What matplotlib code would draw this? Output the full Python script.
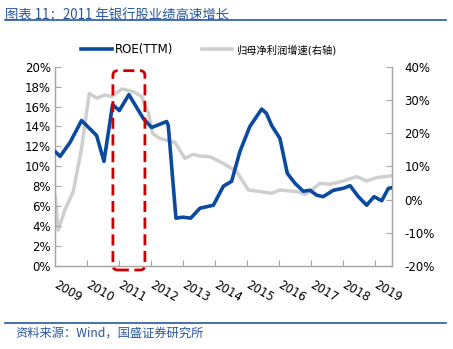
import matplotlib.pyplot as plt
from matplotlib.lines import Line2D
from matplotlib.patches import FancyBboxPatch

plt.rcParams["font.family"] = ["DejaVu Sans", "Noto Sans CJK SC"]

# ROE (TTM), left axis, % ; x in fractional years
roe_t = [2009.00, 2009.16, 2009.47, 2009.83, 2010.30, 2010.53, 2010.80, 2011.01,
         2011.31, 2011.76, 2012.02, 2012.49, 2012.54, 2012.78, 2012.99, 2013.24,
         2013.53, 2013.95, 2014.26, 2014.52, 2014.78, 2015.09, 2015.46, 2015.61,
         2015.77, 2016.03, 2016.26, 2016.50, 2016.76, 2016.97, 2017.18, 2017.38,
         2017.70, 2018.01, 2018.22, 2018.48, 2018.74, 2018.97, 2019.21, 2019.42,
         2019.54]
roe = [11.5, 11.0, 12.4, 14.6, 13.1, 10.5, 16.2, 15.6,
       17.2, 14.8, 13.9, 14.5, 14.1, 4.8, 4.9, 4.8,
       5.8, 6.1, 8.0, 8.5, 11.5, 14.0, 15.75, 15.3,
       14.1, 12.8, 9.3, 8.3, 7.5, 7.6, 7.1, 6.96,
       7.6, 7.8, 8.06, 6.96, 6.1, 6.96, 6.55, 7.8,
       7.86]

# 归母净利润增速, right axis, %
np_t = [2009.00, 2009.10, 2009.31, 2009.57, 2009.83, 2010.07, 2010.30, 2010.56,
        2010.77, 2011.09, 2011.45, 2011.71, 2011.92, 2012.05, 2012.28, 2012.75,
        2013.06, 2013.32, 2013.53, 2013.84, 2014.26, 2014.68, 2015.04, 2015.41,
        2015.77, 2016.03, 2016.55, 2016.81, 2016.97, 2017.28, 2017.59, 2018.01,
        2018.43, 2018.74, 2019.05, 2019.54]
np_growth = [1.4, -9.2, -3.1, 2.4, 15.4, 32.0, 30.5, 31.5,
             31.0, 33.3, 32.5, 31.0, 26.0, 19.9, 18.4, 17.2,
             12.4, 13.6, 13.1, 12.9, 10.9, 8.4, 2.9, 2.4,
             1.9, 2.9, 2.4, 1.6, 2.4, 4.9, 4.6, 5.6,
             6.9, 5.6, 6.6, 7.2]

years = list(range(2009, 2020))
left_ticks = list(range(0, 21, 2))
right_ticks = list(range(-20, 41, 10))
highlight = (2010.81, 2011.81)

blue = "#0b4a9e"
gray = "#cfcfcf"
spine_gray = "#a6a6a6"
text_blue = "#2856a3"

fig = plt.figure(figsize=(4.53, 3.49), dpi=100)
ax = fig.add_axes([0.1214, 0.2378, 0.7439, 0.5711])
ax2 = ax.twinx()

ax2.plot(np_t, np_growth, color=gray, lw=2.5, solid_joinstyle="round",
         solid_capstyle="round")
ax.plot(roe_t, roe, color=blue, lw=2.6, solid_joinstyle="round",
        solid_capstyle="round", zorder=3)
ax.set_zorder(ax2.get_zorder() + 1)
ax.patch.set_visible(False)

ax.set_xlim(2009, 2009 + 337 / 32)
ax.set_ylim(0, 20)
ax2.set_ylim(-20, 40)

ax.set_yticks(left_ticks)
ax.set_yticklabels([f"{v}%" for v in left_ticks])
ax2.set_yticks(right_ticks)
ax2.set_yticklabels([f"{v}%" for v in right_ticks])
ax.set_xticks(years)
ax.set_xticklabels([str(y) for y in years], rotation=-30, ha="left",
                   va="center", rotation_mode="anchor")

for a in (ax, ax2):
    a.spines["top"].set_visible(False)
    for side in ("left", "right", "bottom"):
        a.spines[side].set_color(spine_gray)
        a.spines[side].set_linewidth(0.9)
    a.tick_params(direction="in", length=4, width=0.8, color=spine_gray,
                  labelsize=8.5, labelcolor="black")
ax.tick_params(axis="x", pad=13)
ax.tick_params(axis="y", pad=3)
ax2.tick_params(axis="y", pad=9)

# dashed highlight around 2011
x0, x1 = highlight
box = FancyBboxPatch((x0, -0.4), x1 - x0, 20.0,
                     boxstyle="round,pad=0,rounding_size=0.15",
                     mutation_aspect=3.2, fill=False, ec="#cc0000", lw=2.0,
                     ls=(0, (4, 2)), clip_on=False, zorder=5)
ax.add_patch(box)

handles = [Line2D([], [], color=blue, lw=2.6),
           Line2D([], [], color=gray, lw=2.6)]
leg = fig.legend(handles, ["ROE(TTM)", "归母净利润增速(右轴)"],
                 loc="center left", bbox_to_anchor=(0.155, 0.857), ncol=2,
                 frameon=False, fontsize=8.5, handlelength=2.6,
                 handletextpad=0.3, columnspacing=2.4)
leg.get_texts()[1].set_fontsize(7.4)

fig.text(0.012, 0.975, "图表 11：2011 年银行股业绩高速增长", color=text_blue,
         fontsize=9.6, style="italic", va="top",
         family=["Noto Sans CJK SC", "DejaVu Sans"])
fig.add_artist(Line2D([0.012, 0.985], [0.943, 0.943], color=text_blue, lw=1.2))
fig.add_artist(Line2D([0.012, 0.985], [0.075, 0.075], color=text_blue, lw=1.2))
fig.text(0.035, 0.047, "资料来源：Wind，国盛证券研究所", color=text_blue,
         fontsize=8.8, style="italic", va="center",
         family=["Noto Sans CJK SC", "DejaVu Sans"])

fig.savefig("out.png", dpi=100)
